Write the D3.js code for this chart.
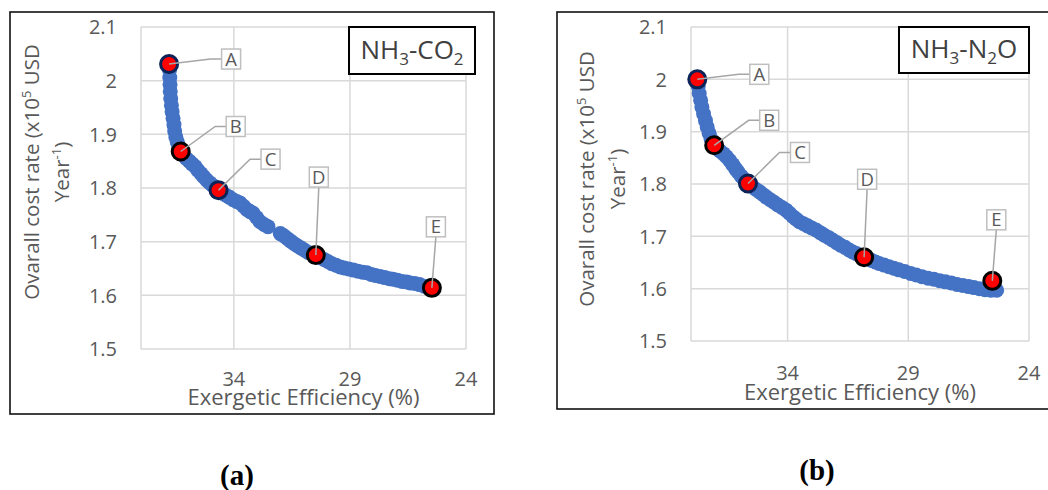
<!DOCTYPE html>
<html>
<head>
<meta charset="utf-8">
<script src="https://cdn.jsdelivr.net/npm/d3@7"></script>
<style>
  body { margin: 0; background: #fff; }
  text { font-family: "Open Sans", sans-serif; }
</style>
</head>
<body>
<svg id="fig" width="1048" height="490"></svg>
<script>
// axis ticks (x axis runs backwards, 38 -> 24)
const xTicks = [34, 29, 24];
const yTicks = [1.5, 1.6, 1.7, 1.8, 1.9, 2.0, 2.1];
const pointNames = ["A", "B", "C", "D", "E"];

// (a) NH3-CO2 pareto front
const co2Eff = [36.79, 36.77, 36.76, 36.75, 36.74, 36.72, 36.69, 36.66, 36.62, 36.58, 36.55, 36.50, 36.44, 36.37, 36.29,
  36.18, 36.05, 35.92, 35.80, 35.67, 35.55, 35.42, 35.30, 35.17, 35.05, 34.92, 34.78, 34.64,
  34.50, 34.36, 34.20, 34.03, 33.88, 33.73, 33.58, 33.44, 33.30, 33.17, 33.02, 32.87, 32.70, 32.53,
  32.00, 31.85, 31.70, 31.55, 31.40, 31.25, 31.10, 30.95, 30.80, 30.62, 30.47,
  30.30, 30.12, 29.95, 29.78, 29.60, 29.42, 29.25, 29.05, 28.85, 28.65, 28.45, 28.27, 28.08, 27.90, 27.70, 27.50,
  27.30, 27.14, 26.95, 26.75, 26.55, 26.40, 26.20, 26.00, 25.80, 25.62, 25.47];
const co2Cost = [2.033, 2.020, 2.006, 1.993, 1.980, 1.967, 1.954, 1.942, 1.930, 1.918, 1.906, 1.895, 1.886, 1.877, 1.868,
  1.861, 1.855, 1.850, 1.845, 1.840, 1.833, 1.827, 1.821, 1.815, 1.810, 1.805, 1.800, 1.796,
  1.791, 1.787, 1.783, 1.778, 1.775, 1.772, 1.766, 1.760, 1.756, 1.753, 1.745, 1.737, 1.732, 1.728,
  1.715, 1.711, 1.706, 1.701, 1.696, 1.692, 1.688, 1.684, 1.680, 1.677, 1.675,
  1.671, 1.667, 1.663, 1.659, 1.656, 1.653, 1.651, 1.649, 1.647, 1.645, 1.643, 1.642, 1.639, 1.637, 1.635, 1.633,
  1.631, 1.630, 1.628, 1.626, 1.625, 1.623, 1.622, 1.620, 1.617, 1.615, 1.614];
const co2KeyEff = [36.79, 36.29, 34.66, 30.47, 25.47];
const co2KeyCost = [2.031, 1.868, 1.796, 1.675, 1.614];

// (b) NH3-N2O pareto front
const n2oEff = [37.74, 37.70, 37.66, 37.60, 37.55, 37.48, 37.40, 37.33, 37.25, 37.17, 37.04,
  36.92, 36.80, 36.66, 36.53, 36.40, 36.27, 36.15, 36.05, 35.92, 35.78, 35.64,
  35.48, 35.32, 35.16, 35.02, 34.88, 34.72, 34.56, 34.40, 34.23, 34.06, 33.92, 33.78, 33.65, 33.51,
  33.34, 33.17, 33.00, 32.82, 32.65, 32.48, 32.31, 32.14, 31.97, 31.80, 31.62, 31.45, 31.30, 31.15, 30.98, 30.83,
  30.67, 30.52, 30.36, 30.21, 30.00, 29.80, 29.60, 29.39, 29.15, 28.90, 28.67, 28.43, 28.18, 27.94, 27.70, 27.46,
  27.22, 26.98, 26.74, 26.50, 26.28, 26.05, 25.82, 25.58, 25.34];
const n2oCost = [2.000, 1.987, 1.973, 1.960, 1.947, 1.934, 1.921, 1.909, 1.897, 1.886, 1.874,
  1.868, 1.863, 1.858, 1.852, 1.845, 1.837, 1.829, 1.823, 1.815, 1.808, 1.801,
  1.796, 1.790, 1.785, 1.780, 1.775, 1.770, 1.765, 1.760, 1.755, 1.750, 1.744, 1.738, 1.733, 1.728,
  1.724, 1.720, 1.716, 1.712, 1.707, 1.702, 1.698, 1.693, 1.688, 1.683, 1.679, 1.674, 1.670, 1.667, 1.663, 1.660,
  1.657, 1.654, 1.651, 1.648, 1.645, 1.642, 1.639, 1.636, 1.633, 1.629, 1.626, 1.623, 1.620, 1.618, 1.615, 1.613,
  1.611, 1.608, 1.606, 1.604, 1.602, 1.600, 1.598, 1.597, 1.597];
const n2oKeyEff = [37.74, 37.04, 35.64, 30.83, 25.52];
const n2oKeyCost = [2.000, 1.874, 1.801, 1.660, 1.615];

// callout box offsets from each key point (px) and leader style
const callouts = {
  A: { dx: 62, dy: -5, side: true },
  B: { dx: 55, dy: -25, side: true },
  C: { dx: 52, dy: -31, side: true },
  D: { dx: 3, dy: -78, side: false },
  E: { dx: 4, dy: -61, side: false }
};
const keyStroke = { A: "#0b2357", B: "#000", C: "#0b2357", D: "#000", E: "#000" };

const panels = [
  {
    eff: co2Eff, cost: co2Cost, keyEff: co2KeyEff, keyCost: co2KeyCost,
    title: [["NH", 0], ["3", 1], ["-CO", 0], ["2", 1]],
    frame: [10, 12, 494, 414],
    plot: { left: 141, right: 466, top: 27, bottom: 349 },
    tbox: [349, 27, 475, 74],
    yTitle: { x1: 32, x2: 62, cy: 172 },
    xTitleY: 397, tickY: 379,
    tag: "(a)", tagX: 237, tagY: 475
  },
  {
    eff: n2oEff, cost: n2oCost, keyEff: n2oKeyEff, keyCost: n2oKeyCost,
    title: [["NH", 0], ["3", 1], ["-N", 0], ["2", 1], ["O", 0]],
    frame: [557, 12, 1052, 409],
    plot: { left: 691, right: 1029, top: 27, bottom: 341 },
    tbox: [899, 27, 1029, 73],
    yTitle: { x1: 587, x2: 618, cy: 179 },
    xTitleY: 392, tickY: 373,
    tag: "(b)", tagX: 817, tagY: 470
  }
];

const svg = d3.select("#fig");
const grey = "#595959";

function drawPanel(p) {
  const g = svg.append("g");

  g.append("rect")
    .attr("x", p.frame[0]).attr("y", p.frame[1])
    .attr("width", p.frame[2] - p.frame[0]).attr("height", p.frame[3] - p.frame[1])
    .attr("fill", "none").attr("stroke", "#111").attr("stroke-width", 1.6);

  const x = d3.scaleLinear([38, 24], [p.plot.left, p.plot.right]);
  const y = d3.scaleLinear([1.5, 2.1], [p.plot.bottom, p.plot.top]);

  // grid
  const grid = g.append("g").attr("stroke", "#d9d9d9").attr("stroke-width", 1.5);
  grid.selectAll(".h").data(yTicks).join("line")
    .attr("x1", p.plot.left).attr("x2", p.plot.right)
    .attr("y1", d => y(d)).attr("y2", d => y(d));
  grid.selectAll(".v").data([38].concat(xTicks)).join("line")
    .attr("y1", p.plot.top).attr("y2", p.plot.bottom)
    .attr("x1", d => x(d)).attr("x2", d => x(d));

  // tick labels
  g.append("g").selectAll("text").data(yTicks).join("text")
    .attr("x", p.plot.left - 24).attr("y", d => y(d)).attr("dy", "0.36em")
    .attr("text-anchor", "end").attr("fill", grey).style("font-size", "20px")
    .text(d => d3.format("~g")(d));
  g.append("g").selectAll("text").data(xTicks).join("text")
    .attr("x", d => x(d)).attr("y", p.tickY).attr("dy", "0.36em")
    .attr("text-anchor", "middle").attr("fill", grey).style("font-size", "20px")
    .text(d => d);

  // axis titles
  g.append("text")
    .attr("x", (p.plot.left + p.plot.right) / 2).attr("y", p.xTitleY).attr("dy", "0.36em")
    .attr("text-anchor", "middle").attr("fill", grey).style("font-size", "22px")
    .text("Exergetic Efficiency (%)");

  const yt1 = g.append("text")
    .attr("transform", `translate(${p.yTitle.x1},${p.yTitle.cy}) rotate(-90)`)
    .attr("dy", "0.36em").attr("text-anchor", "middle").attr("fill", grey).style("font-size", "20.5px");
  yt1.append("tspan").text("Ovarall cost rate (x10");
  yt1.append("tspan").attr("dy", -8).style("font-size", "13px").text("5");
  yt1.append("tspan").attr("dy", 8).text(" USD");
  const yt2 = g.append("text")
    .attr("transform", `translate(${p.yTitle.x2},${p.yTitle.cy}) rotate(-90)`)
    .attr("dy", "0.36em").attr("text-anchor", "middle").attr("fill", grey).style("font-size", "20.5px");
  yt2.append("tspan").text("Year");
  yt2.append("tspan").attr("dy", -8).style("font-size", "13px").text("-1");
  yt2.append("tspan").attr("dy", 8).text(")");

  // pareto points
  g.append("g").attr("fill", "#4472c4").selectAll("circle")
    .data(d3.zip(p.eff, p.cost)).join("circle")
    .attr("cx", d => x(d[0])).attr("cy", d => y(d[1])).attr("r", 7.5);

  const keys = pointNames.map((name, i) => ({ name, px: x(p.keyEff[i]), py: y(p.keyCost[i]) }));
  g.append("g").selectAll("circle").data(keys).join("circle")
    .attr("cx", d => d.px).attr("cy", d => d.py).attr("r", 8.5)
    .attr("fill", "#ff0000").attr("stroke", d => keyStroke[d.name]).attr("stroke-width", 3);

  // callouts
  const bw = 19, bh = 20;
  const cg = g.append("g");
  keys.forEach(k => {
    const c = callouts[k.name];
    const cx = k.px + c.dx, cy = k.py + c.dy;
    let pts;
    if (c.side) pts = [[k.px, k.py], [cx - bw / 2 - 11, cy], [cx - bw / 2, cy]];
    else pts = [[k.px, k.py], [cx, cy + bh / 2]];
    cg.append("path").attr("d", d3.line()(pts))
      .attr("fill", "none").attr("stroke", "#a6a6a6").attr("stroke-width", 1.5);
    cg.append("rect").attr("x", cx - bw / 2).attr("y", cy - bh / 2)
      .attr("width", bw).attr("height", bh)
      .attr("fill", "#fff").attr("stroke", "#bfbfbf").attr("stroke-width", 1.5);
    cg.append("text").attr("x", cx).attr("y", cy).attr("dy", "0.36em")
      .attr("text-anchor", "middle").attr("fill", grey).style("font-size", "18.5px")
      .text(k.name);
  });

  // series title box
  g.append("rect").attr("x", p.tbox[0]).attr("y", p.tbox[1])
    .attr("width", p.tbox[2] - p.tbox[0]).attr("height", p.tbox[3] - p.tbox[1])
    .attr("fill", "#fff").attr("stroke", "#000").attr("stroke-width", 2);
  const tt = g.append("text")
    .attr("x", (p.tbox[0] + p.tbox[2]) / 2).attr("y", (p.tbox[1] + p.tbox[3]) / 2 + 8)
    .attr("text-anchor", "middle").attr("fill", "#404040").style("font-size", "26px");
  let shifted = 0;
  p.title.forEach(([s, sub]) => {
    const ts = tt.append("tspan").text(s);
    if (sub && !shifted) { ts.attr("dy", 6).style("font-size", "17px"); shifted = 1; }
    else if (!sub && shifted) { ts.attr("dy", -6); shifted = 0; }
    else if (sub) ts.style("font-size", "17px");
  });

  // panel tag
  svg.append("text").attr("x", p.tagX).attr("y", p.tagY).attr("dy", "0.35em")
    .attr("text-anchor", "middle")
    .style("font-family", "'Liberation Serif', 'Times New Roman', serif")
    .style("font-weight", "bold").style("font-size", "29px")
    .text(p.tag);
}

panels.forEach(drawPanel);
</script>
</body>
</html>
